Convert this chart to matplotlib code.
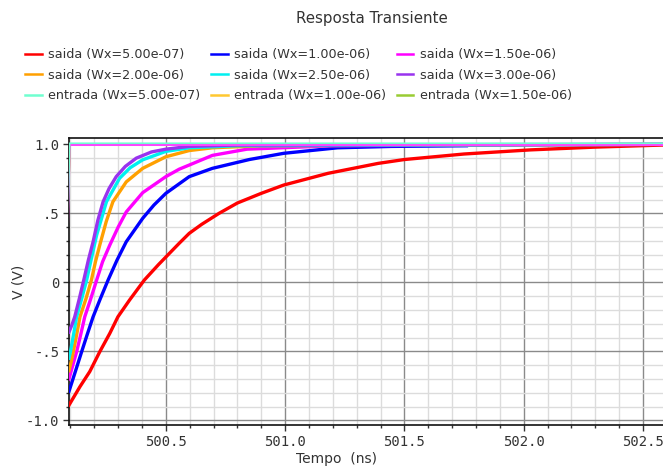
import matplotlib
matplotlib.use("Agg")
import matplotlib.pyplot as plt
from matplotlib.ticker import MultipleLocator, FixedLocator, FixedFormatter

# ---------------- data ----------------
title = "Resposta Transiente"
xlabel = "Tempo  (ns)"
ylabel = "V (V)"

saida_labels = ["saida (Wx=5.00e-07)", "saida (Wx=1.00e-06)", "saida (Wx=1.50e-06)",
                "saida (Wx=2.00e-06)", "saida (Wx=2.50e-06)", "saida (Wx=3.00e-06)"]
saida_colors = ["#ff0000", "#0000ff", "#ff00ff", "#ffa000", "#00f0f0", "#9933ee"]

# saida Wx=5.00e-07
t_red = [500.094, 500.14, 500.181, 500.223, 500.265, 500.299, 500.348, 500.41, 500.47,
         500.556, 500.598, 500.65, 500.723, 500.80, 500.90, 500.994, 501.18, 501.39,
         501.5, 501.75, 502.03, 502.3, 502.584]
v_red = [-0.89, -0.756, -0.647, -0.503, -0.37, -0.25, -0.128, 0.017, 0.13,
         0.283, 0.355, 0.42, 0.50, 0.575, 0.645, 0.705, 0.79, 0.862,
         0.89, 0.93, 0.96, 0.98, 0.995]
# saida Wx=1.00e-06
t_blue = [500.094, 500.12, 500.147, 500.17, 500.195, 500.225, 500.258, 500.295, 500.334,
          500.403, 500.45, 500.5, 500.598, 500.695, 500.85, 500.994, 501.22, 501.445, 501.76]
v_blue = [-0.79, -0.65, -0.503, -0.38, -0.25, -0.12, 0.017, 0.16, 0.294,
          0.464, 0.56, 0.645, 0.766, 0.826, 0.89, 0.935, 0.975, 0.985, 0.99]
# saida Wx=1.50e-06
t_mag = [500.094, 500.11, 500.126, 500.143, 500.16, 500.185, 500.21, 500.235, 500.265,
         500.3, 500.334, 500.403, 500.5, 500.556, 500.598, 500.695, 500.84, 501.2, 502.584]
v_mag = [-0.70, -0.60, -0.503, -0.38, -0.25, -0.12, 0.017, 0.15, 0.27,
         0.40, 0.51, 0.65, 0.766, 0.82, 0.85, 0.92, 0.965, 0.99, 1.0]
# saida Wx=2.00e-06
t_org = [500.094, 500.104, 500.112, 500.126, 500.14, 500.165, 500.188, 500.205, 500.223,
         500.25, 500.278, 500.334, 500.403, 500.5, 500.598, 500.695, 500.9, 502.584]
v_org = [-0.64, -0.57, -0.503, -0.38, -0.25, -0.12, 0.017, 0.15, 0.27,
         0.44, 0.584, 0.728, 0.826, 0.91, 0.955, 0.975, 0.99, 1.0]
# saida Wx=2.50e-06
t_cyn = [500.094, 500.1, 500.113, 500.126, 500.147, 500.168, 500.19, 500.21, 500.251,
         500.306, 500.35, 500.403, 500.5, 500.598, 500.8, 502.584]
v_cyn = [-0.55, -0.503, -0.38, -0.25, -0.12, 0.017, 0.19, 0.343, 0.584,
         0.754, 0.83, 0.888, 0.949, 0.975, 0.99, 1.0]
# saida Wx=3.00e-06
t_pur = [500.094, 500.106, 500.118, 500.137, 500.156, 500.175, 500.195, 500.215, 500.237,
         500.262, 500.292, 500.33, 500.376, 500.44, 500.5, 500.598, 500.8, 502.584]
v_pur = [-0.36, -0.31, -0.25, -0.12, 0.017, 0.16, 0.294, 0.45, 0.584,
         0.68, 0.766, 0.84, 0.90, 0.945, 0.965, 0.985, 0.995, 1.0]

saida_t = [t_red, t_blue, t_mag, t_org, t_cyn, t_pur]
saida_v = [v_red, v_blue, v_mag, v_org, v_cyn, v_pur]

entrada_labels = ["entrada (Wx=5.00e-07)", "entrada (Wx=1.00e-06)", "entrada (Wx=1.50e-06)"]
entrada_colors = ["#70ffd0", "#ffc830", "#99cc33"]
t_in = [500.0, 500.0715, 500.0965, 502.6]
v_in = [-1.0, -1.0, 1.0, 1.0]

# extra step trace drawn at the input edge (not in legend)
extra_colors = ["#ff44ff"]

ytick_vals = [-1.0, -0.5, 0.0, 0.5, 1.0]
ytick_labels = ["-1.0", "-.5", "0", ".5", "1.0"]
xtick_vals = [500.5, 501.0, 501.5, 502.0, 502.5]
xtick_labels = ["500.5", "501.0", "501.5", "502.0", "502.5"]

# ---------------- figure ----------------
W, H = 663, 469
fig = plt.figure(figsize=(W / 100, H / 100), dpi=100)
ax = fig.add_axes([69 / W, 1 - 425 / H, 1 - 69 / W, (425 - 138) / H])

ax.set_xlim(500.094, 502.584)
ax.set_ylim(-1.034, 1.046)

ax.xaxis.set_minor_locator(MultipleLocator(0.1))
ax.yaxis.set_minor_locator(MultipleLocator(0.1))
ax.xaxis.set_major_locator(FixedLocator(xtick_vals))
ax.xaxis.set_major_formatter(FixedFormatter(xtick_labels))
ax.yaxis.set_major_locator(FixedLocator(ytick_vals))
ax.yaxis.set_major_formatter(FixedFormatter(ytick_labels))
ax.grid(which="minor", color="#dcdcdc", lw=1.0)
ax.grid(which="major", color="#8a8a8a", lw=1.0)
ax.set_axisbelow(True)

handles = []
for t, v, c, lab in zip(saida_t, saida_v, saida_colors, saida_labels):
    h, = ax.plot(t, v, color=c, lw=2.4, label=lab, zorder=3)
    handles.append(h)
for c in extra_colors:
    ax.plot(t_in, [y - 0.004 for y in v_in], color=c, lw=1.6, zorder=4)
for c, lab in zip(entrada_colors, entrada_labels):
    h, = ax.plot(t_in, v_in, color=c, lw=1.5, label=lab, zorder=2)
    handles.append(h)
ax.plot(t_in, [y + 0.008 for y in v_in], color=entrada_colors[0], lw=1.2, zorder=4)

ax.spines["right"].set_visible(False)
for s in ["top", "left", "bottom"]:
    ax.spines[s].set_color("#111111")
    ax.spines[s].set_linewidth(1.2)

ax.tick_params(which="major", direction="out", length=4, width=1, color="#333333",
               labelsize=10, labelcolor="#333333", pad=3)
ax.tick_params(which="minor", direction="out", length=2.5, width=1, color="#333333")
ax.tick_params(axis="x", which="both", top=False)
for lbl in ax.get_xticklabels() + ax.get_yticklabels():
    lbl.set_family("DejaVu Sans Mono")

ax.set_xlabel(xlabel, fontsize=10, color="#333333")
ax.xaxis.set_label_coords((336 - 69) / (W - 69), -(452 - 425) / (425 - 138))
ax.set_ylabel(ylabel, fontsize=10, color="#333333")
ax.yaxis.set_label_coords(-(69 - 26) / (W - 69), 0.5)

fig.text(372 / W, 1 - 18 / H, title, ha="center", va="center", fontsize=10.8, color="#333333")

order = [0, 3, 6, 1, 4, 7, 2, 5, 8]
leg = fig.legend([handles[i] for i in order], [handles[i].get_label() for i in order],
                 ncol=3, loc="upper left", bbox_to_anchor=(25 / W, 1 - 48 / H),
                 frameon=False, fontsize=9.2, handlelength=1.3, handletextpad=0.5,
                 columnspacing=0.85, labelspacing=0.6, borderaxespad=0, borderpad=0)
for txt in leg.get_texts():
    txt.set_color("#333333")
for line in leg.get_lines():
    line.set_linewidth(1.8)

fig.savefig("out.png", dpi=100)
